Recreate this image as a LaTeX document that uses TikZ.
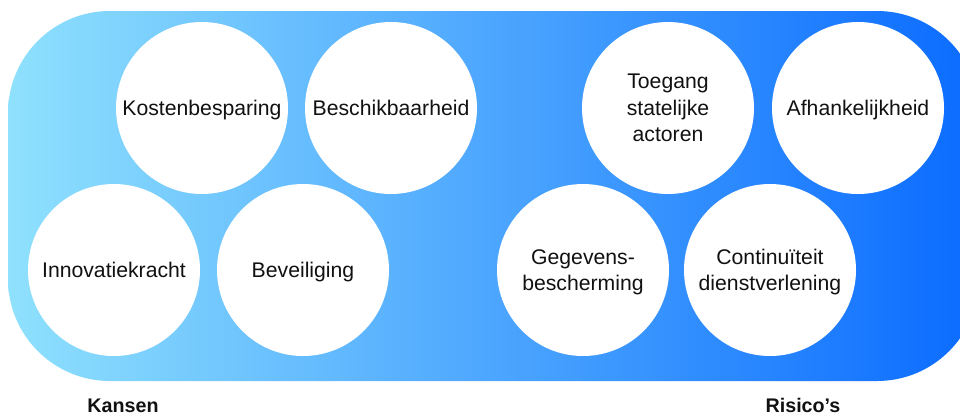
\documentclass[tikz,border=0pt]{standalone}
\usepackage{fontspec}
\setmainfont{Liberation Sans}
\usepackage{tikz}
\usetikzlibrary{positioning}

\definecolor{kansblue}{HTML}{8FE1FD}
\definecolor{midblue}{HTML}{4DA9FE}
\definecolor{risicoblue}{HTML}{0A6BFF}
\definecolor{textdark}{HTML}{111111}

\begin{document}
\begin{tikzpicture}[x=1pt,y=-1pt,
                    every node/.style={font=\fontsize{21.2}{26.5}\selectfont, text=textdark}]

  \tikzstyle{topic} = [circle, fill=white, minimum size=172pt, inner sep=0pt,
                       align=center, text depth=0pt]
  \tikzstyle{side} = [font=\fontsize{19.7}{22}\selectfont\bfseries, anchor=base]

  \useasboundingbox (0,0) rectangle (960,415);
  \shade[left color=kansblue, middle color=midblue, right color=risicoblue,
         rounded corners=102pt] (8,11) rectangle (979,381);

  % kansen
  \node[topic] (kosten)   at (202,108) {Kostenbesparing};
  \node[topic] (beschik)  at (391,108) {Beschikbaarheid};
  \node[topic] (innov)    at (114,270) {Innovatiekracht};
  \node[topic] (beveil)   at (303,270) {Beveiliging};

  % risico's
  \node[topic] (toegang)  at (668,108) {Toegang\\statelijke\\actoren};
  \node[topic] (afhank)   at (858,108) {Afhankelijkheid};
  \node[topic] (gegevens) at (583,270) {Gegevens-\\bescherming};
  \node[topic] (contin)   at (770,270) {Continuïteit\\dienstverlening};

  \node[side] (kansen) at (123,412) {Kansen};
  \node[side] (risicos) at (803,412) {Risico’s};

\end{tikzpicture}
\end{document}
